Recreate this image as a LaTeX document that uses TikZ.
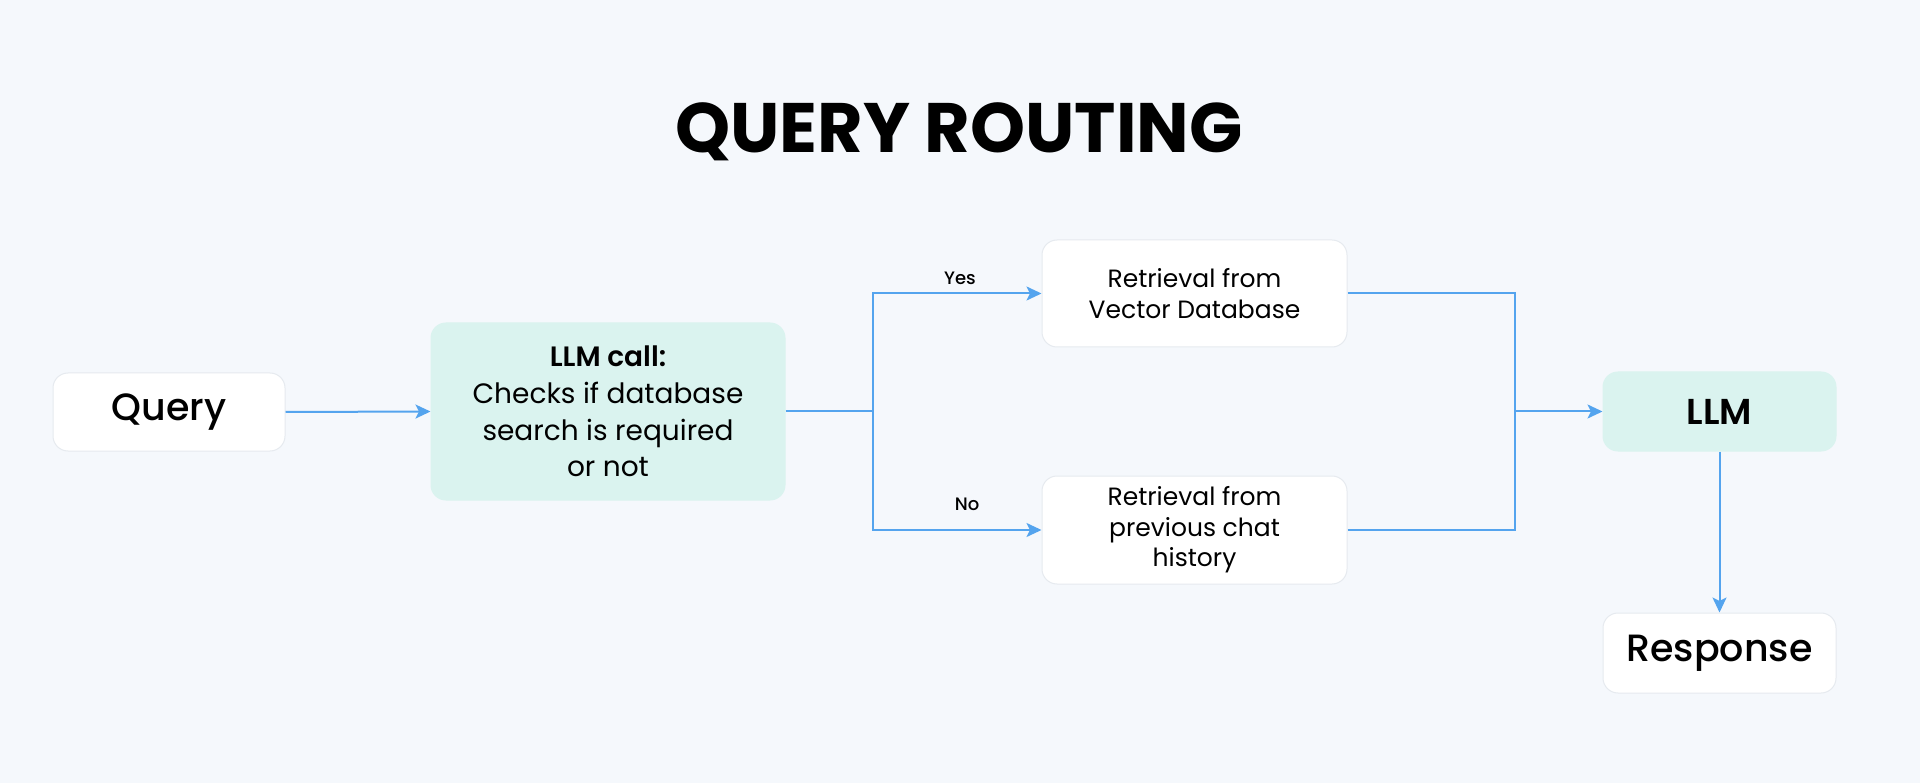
\documentclass[tikz,border=0pt]{standalone}
\usepackage{fontspec}
\setmainfont{Poppins}
\newfontfamily\popmed{Poppins Medium}
\newfontfamily\popsemi{Poppins SemiBold}
\usetikzlibrary{arrows.meta}
\definecolor{bgc}{RGB}{245,248,252}
\definecolor{tealc}{RGB}{218,243,239}
\definecolor{bluec}{RGB}{84,164,238}
\definecolor{edgec}{RGB}{230,234,239}
\tikzset{
  box/.style={rounded corners=15pt, inner sep=0pt, align=center, draw=edgec, line width=1pt},
  whitebox/.style={box, fill=white},
  tealbox/.style={box, fill=tealc, draw=tealc},
  conn/.style={draw=bluec, line width=2pt},
  arr/.style={conn, -{Stealth[length=15pt,width=14pt,inset=3.5pt]}},
  bigtext/.style={font=\popmed\fontsize{38}{44}\selectfont},
  midtext/.style={font=\fontsize{28}{36.7}\selectfont},
  smalltext/.style={font=\fontsize{25}{30.5}\selectfont},
  lbl/.style={font=\popmed\fontsize{18}{20}\selectfont}
}
\begin{document}
\begin{tikzpicture}[x=1pt,y=-1pt]
\fill[bgc] (0,0) rectangle (1920,783);
\useasboundingbox (0,0) rectangle (1920,783);
\node[font=\bfseries\fontsize{70}{80}\selectfont, anchor=base] (title) at (959,153) {QUERY ROUTING};
\node[whitebox, bigtext, minimum width=232pt, minimum height=78pt] (q) at (169,412) {Query};
\node[tealbox, midtext, minimum width=354pt, minimum height=177pt] (call) at (608,411.5) {{\popsemi LLM call:}\\Checks if database\\search is required\\or not};
\node[whitebox, smalltext, minimum width=305pt, minimum height=107pt] (vec) at (1194.5,293.5) {Retrieval from\\Vector Database};
\node[whitebox, smalltext, minimum width=305pt, minimum height=108pt] (hist) at (1194.5,530) {Retrieval from\\previous chat\\history};
\node[tealbox, font=\popsemi\fontsize{36}{44}\selectfont, minimum width=233pt, minimum height=79pt] (llm) at (1719.5,411.5) {LLM};
\node[whitebox, bigtext, minimum width=233pt, minimum height=80pt] (resp) at (1719.5,653) {Response};
\coordinate (split) at (873,411.5);
\coordinate (join) at (1515,411.5);
\draw[arr] (q.east) -- (call.west);
\draw[conn] (call.east) -- (split);
\draw[arr] (split) |- (vec.west);
\draw[arr] (split) |- (hist.west);
\node[lbl] (yes) at (960,278) {Yes};
\node[lbl] (no) at (967,504) {No};
\draw[conn] (vec.east) -| (join);
\draw[conn] (hist.east) -| (join);
\draw[arr] (join) -- (llm.west);
\draw[arr] (llm.south) -- (resp.north);
\end{tikzpicture}
\end{document}
